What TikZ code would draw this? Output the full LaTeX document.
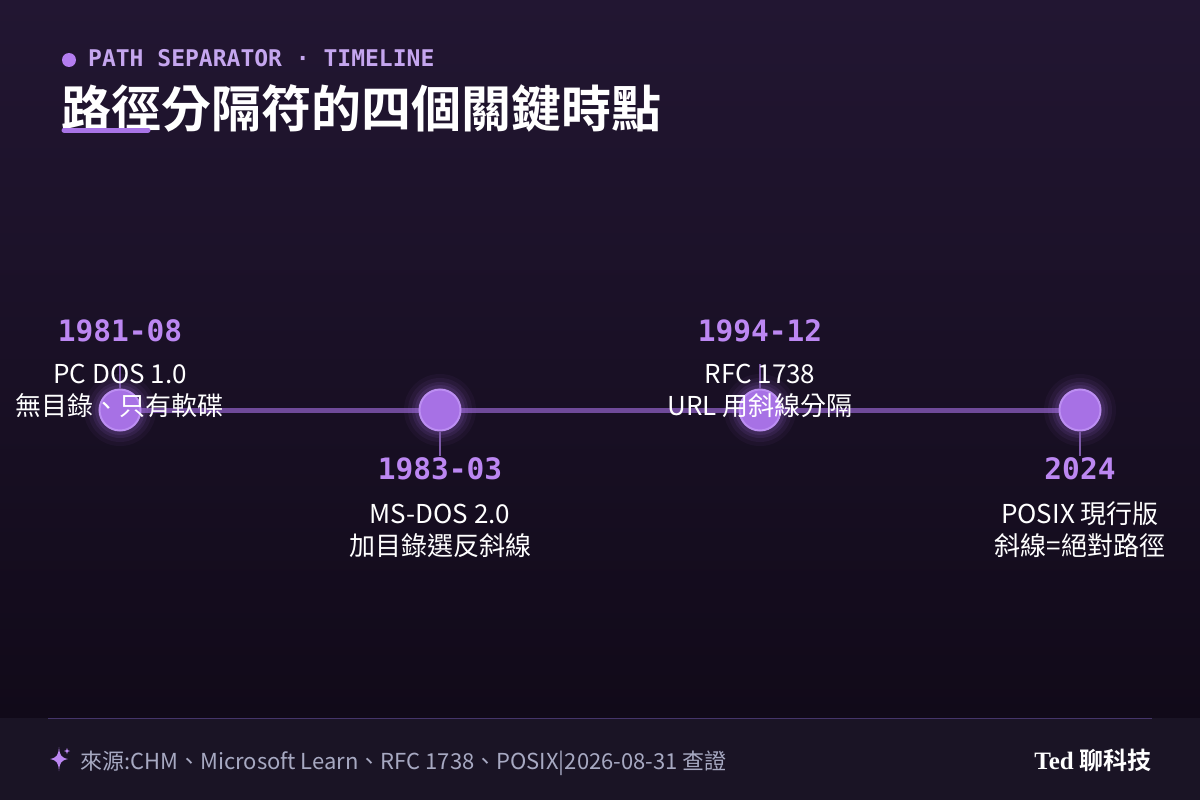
\documentclass[tikz,border=0pt]{standalone}
\usepackage{fontspec}
\setmainfont{Noto Sans CJK TC}[BoldFont={Noto Sans CJK TC Bold}]
\newfontfamily\monob{DejaVu Sans Mono Bold}
\newfontfamily\serifb{Liberation Serif Bold}
\newfontfamily\cjkb{Noto Sans CJK TC Bold}
\usetikzlibrary{calc}
\definecolor{bgtop}{HTML}{221632}
\definecolor{bgbot}{HTML}{110A19}
\definecolor{footbg}{HTML}{1A1425}
\definecolor{footline}{HTML}{45356A}
\definecolor{tline}{HTML}{6F4A9A}
\definecolor{cfill}{HTML}{A771E5}
\definecolor{cring}{HTML}{BC8EF2}
\definecolor{tick}{HTML}{7D5AA8}
\definecolor{datec}{HTML}{BC87F2}
\definecolor{headc}{HTML}{C5A6EF}
\definecolor{headdot}{HTML}{B47DF0}
\definecolor{footc}{HTML}{A7A9C2}
\definecolor{ulc}{HTML}{A874E6}
\tikzset{
  x=1pt,y=-1pt,
  dot/.style={circle,fill=cfill,draw=cring,line width=2pt,minimum size=41pt,inner sep=0pt},
  ticklink/.style={draw=tick,line width=1.6pt},
  datelbl/.style={anchor=base,text=datec,font=\monob\fontsize{29.5}{29.5}\selectfont,inner sep=0pt},
  desc/.style={anchor=base,text=white,font=\fontsize{26}{26}\selectfont,inner sep=0pt},
}
\begin{document}
\begin{tikzpicture}
\useasboundingbox (0,0) rectangle (1200,800);
% background
\shade[top color=bgtop,bottom color=bgbot] (0,0) rectangle (1200,718);
\fill[footbg] (0,718) rectangle (1200,800);
\draw[footline,line width=1pt] (48,718) -- (1152,718);
% header
\fill[headdot] (69,60) circle (7);
\node[anchor=base west,inner sep=0pt,text=headc,font=\monob\fontsize{23}{23}\selectfont] (hdr) at (88,66.5) {PATH SEPARATOR · TIMELINE};
\node[anchor=base west,inner sep=0pt,text=white,font=\cjkb\fontsize{50}{50}\selectfont] (title) at (61,127) {路徑分隔符的四個關鍵時點};
\draw[ulc,line width=5pt,line cap=round] (64,130) -- (148,130);
% timeline line
\coordinate (ls) at (120,410);
\coordinate (le) at (1080,410);
\draw[tline,line width=5pt] (ls) -- (le);
% glow
\foreach \x in {120,440,760,1080}{
  \foreach \r/\o in {36/0.05,32/0.07,28/0.10,25/0.12}{
    \fill[cfill,opacity=\o] (\x,410) circle (\r);
  }
}
% dots
\node[dot] (c1) at (120,410) {};
\node[dot] (c2) at (440,410) {};
\node[dot] (c3) at (760,410) {};
\node[dot] (c4) at (1080,410) {};
% ticks
\coordinate (t1) at (120,364);
\coordinate (t2) at (440,456);
\coordinate (t3) at (760,364);
\coordinate (t4) at (1080,456);
\draw[ticklink] (c1.north) -- (t1);
\draw[ticklink] (c2.south) -- (t2);
\draw[ticklink] (c3.north) -- (t3);
\draw[ticklink] (c4.south) -- (t4);
% labels event 1
\node[datelbl] (d1) at (120,341.5) {1981-08};
\node[desc] (e1a) at (120,383) {PC DOS 1.0};
\node[desc] (e1b) at (120,415) {無目錄、只有軟碟};
% event 2
\node[datelbl] (d2) at (440,479.5) {1983-03};
\node[desc] (e2a) at (440,523) {MS-DOS 2.0};
\node[desc] (e2b) at (440,555) {加目錄選反斜線};
% event 3
\node[datelbl] (d3) at (760,341.5) {1994-12};
\node[desc] (e3a) at (760,383) {RFC 1738};
\node[desc] (e3b) at (760,415) {URL 用斜線分隔};
% event 4
\node[datelbl] (d4) at (1080,479.5) {2024};
\node[desc] (e4a) at (1080,523) {POSIX 現行版};
\node[desc] (e4b) at (1080,555) {斜線=絕對路徑};
% footer
\fill[datec] (59,747) .. controls (59.8,755.5) and (61,757.5) .. (68,759)
  .. controls (61,760.5) and (59.8,762.5) .. (59,771)
  .. controls (58.2,762.5) and (57,760.5) .. (50,759)
  .. controls (57,757.5) and (58.2,755.5) .. cycle;
\fill[datec] (67,748) -- (67.8,750.2) -- (70,751) -- (67.8,751.8) -- (67,754) -- (66.2,751.8) -- (64,751) -- (66.2,750.2) -- cycle;
\node[anchor=base west,inner sep=0pt,text=footc,font=\fontsize{22}{22}\selectfont] (src) at (80,769) {來源:CHM、Microsoft Learn、RFC 1738、POSIX|2026-08-31 查證};
\node[anchor=base east,inner sep=0pt,text=white] (brand) at (1152,769) {\serifb\fontsize{25}{25}\selectfont Ted\hspace{6pt}\cjkb\fontsize{24}{24}\selectfont 聊科技};
\end{tikzpicture}
\end{document}
